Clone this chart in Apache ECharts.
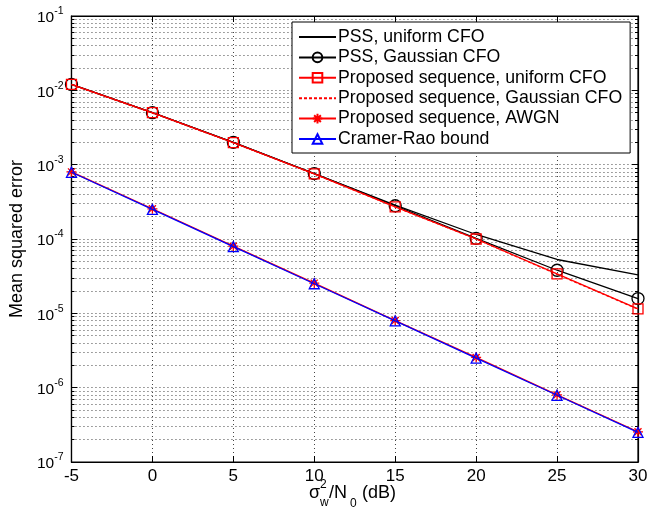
<!DOCTYPE html>
<html>
<head>
<meta charset="utf-8">
<script src="https://cdn.jsdelivr.net/npm/echarts@6/dist/echarts.min.js"></script>
<style>html,body{margin:0;padding:0;background:#fff}#c{width:665px;height:519px}</style>
</head>
<body>
<div id="c"></div>
<script>
const snr = [-5, 0, 5, 10, 15, 20, 25, 30];
const pssUniform = [1.2e-2, 5.0e-3, 2.0e-3, 7.6e-4, 2.85e-4, 1.15e-4, 5.3e-5, 3.3e-5];
const pssGauss = [1.2e-2, 5.0e-3, 2.0e-3, 7.6e-4, 2.8e-4, 1.02e-4, 3.8e-5, 1.58e-5];
const propUniform = [1.2e-2, 5.0e-3, 1.98e-3, 7.5e-4, 2.7e-4, 1.0e-4, 3.4e-5, 1.15e-5];
const propGauss = [1.19e-2, 4.95e-3, 1.97e-3, 7.5e-4, 2.7e-4, 1.0e-4, 3.35e-5, 1.14e-5];
const awgn = [8.0e-4, 2.55e-4, 8.0e-5, 2.55e-5, 8.0e-6, 2.55e-6, 8.0e-7, 2.55e-7];
const crb = [7.9e-4, 2.5e-4, 7.9e-5, 2.5e-5, 7.9e-6, 2.5e-6, 7.9e-7, 2.5e-7];
const names = ['PSS, uniform CFO', 'PSS, Gaussian CFO', 'Proposed sequence, uniform CFO',
  'Proposed sequence, Gaussian CFO', 'Proposed sequence, AWGN', 'Cramer-Rao bound'];

const FONT = 'Liberation Sans, Arial, sans-serif';
const pts = arr => snr.map((x, i) => [x, arr[i]]);
const star = 'path://M5,0L5,10M0,5L10,5M1.5,1.5L8.5,8.5M1.5,8.5L8.5,1.5';
const grid = {left: 70, right: 27, top: 16, bottom: 57};
const dotted = {color: '#444', type: [1, 3], width: 1};
const axLine = {show: true, onZero: false, lineStyle: {color: '#000', width: 1.2}};

const chart = echarts.init(document.getElementById('c'), null, {renderer: 'canvas'});
function mk(name, data, color, symbol, size, lineType, z) {
  return {
    name, type: 'line', data: pts(data), z,
    symbol, symbolSize: size, showSymbol: symbol !== 'none',
    lineStyle: {color, width: 1.3, type: lineType},
    itemStyle: {color: 'rgba(0,0,0,0)', borderColor: color, borderWidth: 1.3},
    emphasis: {disabled: true}, animation: false
  };
}
const noSym = {color: 'rgba(0,0,0,0)', borderColor: 'rgba(0,0,0,0)', borderWidth: 0};
const option = {
  animation: false,
  grid: Object.assign({show: true, borderColor: '#000', borderWidth: 1.2, backgroundColor: '#fff'}, grid),
  legend: {
    orient: 'vertical', left: 292, top: 22,
    backgroundColor: '#fff', borderColor: '#000', borderWidth: 1, borderRadius: 0,
    padding: [6, 8, 5, 6], itemGap: 2.4, itemWidth: 37, itemHeight: 12,
    textStyle: {fontFamily: FONT, fontSize: 17.7, color: '#000', lineHeight: 17, padding: [0, 0, 0, -3]},
    data: [
      {name: names[0], itemStyle: noSym},
      {name: names[1]},
      {name: names[2]},
      {name: names[3], itemStyle: noSym},
      {name: names[4]},
      {name: names[5]}
    ]
  },
  xAxis: [{
    type: 'value', min: -5, max: 30, interval: 5,
    axisLine: axLine,
    axisTick: {inside: true, length: 6, lineStyle: {color: '#000'}},
    axisLabel: {fontFamily: FONT, fontSize: 17, color: '#000', margin: 6,
      formatter: v => String(v)},
    splitLine: {show: true, lineStyle: dotted}
  }, {
    type: 'value', min: -5, max: 30, interval: 5, position: 'top',
    axisLine: axLine,
    axisTick: {inside: true, length: 6, lineStyle: {color: '#000'}},
    axisLabel: {show: false}, splitLine: {show: false}
  }],
  yAxis: [{
    type: 'log', logBase: 10, min: 1e-7, max: 1e-1,
    name: 'Mean squared error', nameLocation: 'middle', nameGap: 42, nameRotate: 90,
    nameTextStyle: {fontFamily: FONT, fontSize: 18, color: '#000'},
    axisLine: axLine,
    axisTick: {inside: true, length: 6, lineStyle: {color: '#000'}},
    minorTick: {show: true, splitNumber: 9, length: 3, lineStyle: {color: '#000'}},
    minorSplitLine: {show: true, lineStyle: dotted},
    splitLine: {show: true, lineStyle: dotted},
    axisLabel: {
      margin: 8, color: '#000',
      formatter: v => '{b|10}{s|' + Math.round(Math.log10(v)) + '}',
      rich: {
        b: {fontFamily: FONT, fontSize: 15.5, color: '#000', verticalAlign: 'bottom'},
        s: {fontFamily: FONT, fontSize: 10.5, color: '#000', verticalAlign: 'top', padding: [0, 0, 9, 0]}
      }
    }
  }, {
    type: 'log', logBase: 10, min: 1e-7, max: 1e-1, position: 'right',
    axisLine: axLine,
    axisTick: {inside: true, length: 6, lineStyle: {color: '#000'}},
    minorTick: {show: true, splitNumber: 9, length: 3, lineStyle: {color: '#000'}},
    axisLabel: {show: false}, splitLine: {show: false}
  }],
  graphic: [
    {type: 'text', left: 309, top: 484, style: {text: 'σ', font: '18px ' + FONT, fill: '#000'}},
    {type: 'text', left: 320, top: 479, style: {text: '2', font: '12px ' + FONT, fill: '#000'}},
    {type: 'text', left: 320, top: 497, style: {text: 'w', font: '12px ' + FONT, fill: '#000'}},
    {type: 'text', left: 329, top: 484, style: {text: '/N', font: '18px ' + FONT, fill: '#000'}},
    {type: 'text', left: 350, top: 498, style: {text: '0', font: '12px ' + FONT, fill: '#000'}},
    {type: 'text', left: 357, top: 484, style: {text: ' (dB)', font: '18px ' + FONT, fill: '#000'}}
  ],
  series: [
    mk(names[0], pssUniform, '#000', 'none', 0, 'solid', 2),
    mk(names[1], pssGauss, '#000', 'circle', 12, 'solid', 3),
    mk(names[2], propUniform, '#ff0000', 'rect', 10, 'solid', 4),
    mk(names[3], propGauss, '#ff0000', 'none', 0, [3, 2], 5),
    mk(names[4], awgn, '#ff0000', star, 10, 'solid', 6),
    mk(names[5], crb, '#0000ff', 'triangle', 10, 'solid', 7)
  ]
};
chart.setOption(option);
</script>
</body>
</html>
